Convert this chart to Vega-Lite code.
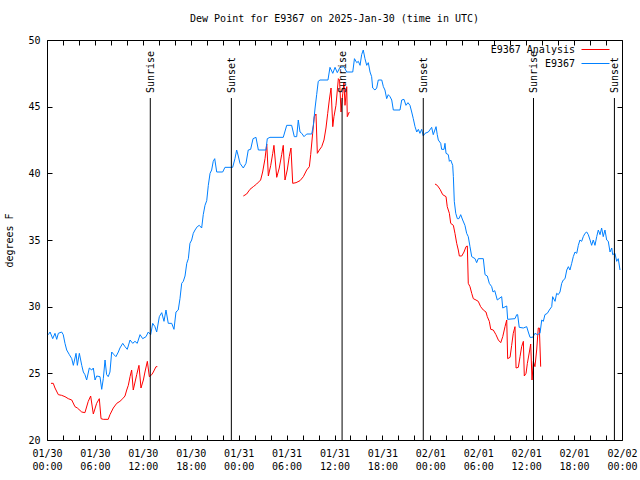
{
"$schema": "https://vega.github.io/schema/vega-lite/v6.json",
"width": 575, "height": 400,
"autosize": {"type": "none"},
"padding": {"left": 47, "top": 40, "right": 18, "bottom": 40},
"background": "white",
"title": {"text": "Dew Point for E9367 on 2025-Jan-30 (time in UTC)", "font": "DejaVu Sans Mono", "fontSize": 10, "fontWeight": "normal", "color": "black", "anchor": "middle", "offset": 11},
"config": {
 "view": {"stroke": "black", "strokeWidth": 1},
 "axis": {"labelFont": "DejaVu Sans Mono", "labelFontSize": 10, "labelColor": "black", "titleFont": "DejaVu Sans Mono", "titleFontSize": 10, "titleFontWeight": "normal", "titleColor": "black", "tickColor": "black", "tickSize": -5, "domain": false, "grid": false},
 "text": {"font": "DejaVu Sans Mono", "fontSize": 10, "color": "black"}
},
"datasets": {
 "ev": [
  {"t": "2025-01-30T12:56Z", "e": "Sunrise"},
  {"t": "2025-01-30T23:05Z", "e": "Sunset"},
  {"t": "2025-01-31T12:57Z", "e": "Sunrise"},
  {"t": "2025-01-31T23:07Z", "e": "Sunset"},
  {"t": "2025-02-01T12:55Z", "e": "Sunrise"},
  {"t": "2025-02-01T23:03Z", "e": "Sunset"}
 ],
 "obs": [
  {"s":"E9367 Analysis","g":"r1","t":"2025-01-30T00:30Z","v":24.25},
  {"s":"E9367 Analysis","g":"r1","t":"2025-01-30T00:47Z","v":24.25},
  {"s":"E9367 Analysis","g":"r1","t":"2025-01-30T01:00Z","v":23.9},
  {"s":"E9367 Analysis","g":"r1","t":"2025-01-30T01:25Z","v":23.4},
  {"s":"E9367 Analysis","g":"r1","t":"2025-01-30T01:50Z","v":23.35},
  {"s":"E9367 Analysis","g":"r1","t":"2025-01-30T02:15Z","v":23.25},
  {"s":"E9367 Analysis","g":"r1","t":"2025-01-30T02:40Z","v":23.1},
  {"s":"E9367 Analysis","g":"r1","t":"2025-01-30T03:06Z","v":23.0},
  {"s":"E9367 Analysis","g":"r1","t":"2025-01-30T03:30Z","v":22.5},
  {"s":"E9367 Analysis","g":"r1","t":"2025-01-30T03:48Z","v":22.4},
  {"s":"E9367 Analysis","g":"r1","t":"2025-01-30T04:21Z","v":22.1},
  {"s":"E9367 Analysis","g":"r1","t":"2025-01-30T04:45Z","v":22.05},
  {"s":"E9367 Analysis","g":"r1","t":"2025-01-30T05:10Z","v":22.9},
  {"s":"E9367 Analysis","g":"r1","t":"2025-01-30T05:28Z","v":23.3},
  {"s":"E9367 Analysis","g":"r1","t":"2025-01-30T05:48Z","v":21.95},
  {"s":"E9367 Analysis","g":"r1","t":"2025-01-30T06:13Z","v":22.75},
  {"s":"E9367 Analysis","g":"r1","t":"2025-01-30T06:33Z","v":23.1},
  {"s":"E9367 Analysis","g":"r1","t":"2025-01-30T06:46Z","v":21.6},
  {"s":"E9367 Analysis","g":"r1","t":"2025-01-30T07:03Z","v":21.55},
  {"s":"E9367 Analysis","g":"r1","t":"2025-01-30T07:40Z","v":21.55},
  {"s":"E9367 Analysis","g":"r1","t":"2025-01-30T07:53Z","v":21.9},
  {"s":"E9367 Analysis","g":"r1","t":"2025-01-30T08:18Z","v":22.4},
  {"s":"E9367 Analysis","g":"r1","t":"2025-01-30T08:44Z","v":22.75},
  {"s":"E9367 Analysis","g":"r1","t":"2025-01-30T09:08Z","v":22.9},
  {"s":"E9367 Analysis","g":"r1","t":"2025-01-30T09:29Z","v":23.1},
  {"s":"E9367 Analysis","g":"r1","t":"2025-01-30T09:46Z","v":23.3},
  {"s":"E9367 Analysis","g":"r1","t":"2025-01-30T09:59Z","v":23.75},
  {"s":"E9367 Analysis","g":"r1","t":"2025-01-30T10:11Z","v":24.1},
  {"s":"E9367 Analysis","g":"r1","t":"2025-01-30T10:24Z","v":24.75},
  {"s":"E9367 Analysis","g":"r1","t":"2025-01-30T10:36Z","v":25.25},
  {"s":"E9367 Analysis","g":"r1","t":"2025-01-30T10:48Z","v":23.75},
  {"s":"E9367 Analysis","g":"r1","t":"2025-01-30T11:14Z","v":24.9},
  {"s":"E9367 Analysis","g":"r1","t":"2025-01-30T11:31Z","v":25.6},
  {"s":"E9367 Analysis","g":"r1","t":"2025-01-30T11:46Z","v":23.9},
  {"s":"E9367 Analysis","g":"r1","t":"2025-01-30T12:04Z","v":24.5},
  {"s":"E9367 Analysis","g":"r1","t":"2025-01-30T12:16Z","v":25.1},
  {"s":"E9367 Analysis","g":"r1","t":"2025-01-30T12:34Z","v":25.9},
  {"s":"E9367 Analysis","g":"r1","t":"2025-01-30T12:49Z","v":24.75},
  {"s":"E9367 Analysis","g":"r1","t":"2025-01-30T13:07Z","v":24.9},
  {"s":"E9367 Analysis","g":"r1","t":"2025-01-30T13:19Z","v":25.1},
  {"s":"E9367 Analysis","g":"r1","t":"2025-01-30T13:39Z","v":25.5},
  {"s":"E9367 Analysis","g":"r1","t":"2025-01-30T13:49Z","v":25.5},
  {"s":"E9367 Analysis","g":"r2","t":"2025-01-31T00:35Z","v":38.3},
  {"s":"E9367 Analysis","g":"r2","t":"2025-01-31T01:00Z","v":38.45},
  {"s":"E9367 Analysis","g":"r2","t":"2025-01-31T01:25Z","v":38.8},
  {"s":"E9367 Analysis","g":"r2","t":"2025-01-31T01:50Z","v":39.0},
  {"s":"E9367 Analysis","g":"r2","t":"2025-01-31T02:15Z","v":39.2},
  {"s":"E9367 Analysis","g":"r2","t":"2025-01-31T02:45Z","v":39.5},
  {"s":"E9367 Analysis","g":"r2","t":"2025-01-31T03:00Z","v":40.1},
  {"s":"E9367 Analysis","g":"r2","t":"2025-01-31T03:18Z","v":41.1},
  {"s":"E9367 Analysis","g":"r2","t":"2025-01-31T03:31Z","v":42.2},
  {"s":"E9367 Analysis","g":"r2","t":"2025-01-31T03:43Z","v":39.8},
  {"s":"E9367 Analysis","g":"r2","t":"2025-01-31T04:01Z","v":40.6},
  {"s":"E9367 Analysis","g":"r2","t":"2025-01-31T04:16Z","v":41.5},
  {"s":"E9367 Analysis","g":"r2","t":"2025-01-31T04:25Z","v":42.1},
  {"s":"E9367 Analysis","g":"r2","t":"2025-01-31T04:46Z","v":39.7},
  {"s":"E9367 Analysis","g":"r2","t":"2025-01-31T05:05Z","v":40.4},
  {"s":"E9367 Analysis","g":"r2","t":"2025-01-31T05:23Z","v":41.4},
  {"s":"E9367 Analysis","g":"r2","t":"2025-01-31T05:35Z","v":42.1},
  {"s":"E9367 Analysis","g":"r2","t":"2025-01-31T05:48Z","v":39.5},
  {"s":"E9367 Analysis","g":"r2","t":"2025-01-31T06:05Z","v":40.25},
  {"s":"E9367 Analysis","g":"r2","t":"2025-01-31T06:20Z","v":41.25},
  {"s":"E9367 Analysis","g":"r2","t":"2025-01-31T06:33Z","v":41.9},
  {"s":"E9367 Analysis","g":"r2","t":"2025-01-31T06:46Z","v":39.25},
  {"s":"E9367 Analysis","g":"r2","t":"2025-01-31T07:11Z","v":39.3},
  {"s":"E9367 Analysis","g":"r2","t":"2025-01-31T07:41Z","v":39.45},
  {"s":"E9367 Analysis","g":"r2","t":"2025-01-31T08:06Z","v":39.75},
  {"s":"E9367 Analysis","g":"r2","t":"2025-01-31T08:31Z","v":40.25},
  {"s":"E9367 Analysis","g":"r2","t":"2025-01-31T08:51Z","v":40.5},
  {"s":"E9367 Analysis","g":"r2","t":"2025-01-31T09:01Z","v":41.4},
  {"s":"E9367 Analysis","g":"r2","t":"2025-01-31T09:16Z","v":43.0},
  {"s":"E9367 Analysis","g":"r2","t":"2025-01-31T09:28Z","v":44.25},
  {"s":"E9367 Analysis","g":"r2","t":"2025-01-31T09:41Z","v":44.45},
  {"s":"E9367 Analysis","g":"r2","t":"2025-01-31T09:51Z","v":41.5},
  {"s":"E9367 Analysis","g":"r2","t":"2025-01-31T10:06Z","v":41.75},
  {"s":"E9367 Analysis","g":"r2","t":"2025-01-31T10:24Z","v":42.0},
  {"s":"E9367 Analysis","g":"r2","t":"2025-01-31T10:41Z","v":42.5},
  {"s":"E9367 Analysis","g":"r2","t":"2025-01-31T10:56Z","v":43.4},
  {"s":"E9367 Analysis","g":"r2","t":"2025-01-31T11:09Z","v":44.5},
  {"s":"E9367 Analysis","g":"r2","t":"2025-01-31T11:21Z","v":45.5},
  {"s":"E9367 Analysis","g":"r2","t":"2025-01-31T11:34Z","v":46.4},
  {"s":"E9367 Analysis","g":"r2","t":"2025-01-31T11:47Z","v":43.5},
  {"s":"E9367 Analysis","g":"r2","t":"2025-01-31T11:56Z","v":44.25},
  {"s":"E9367 Analysis","g":"r2","t":"2025-01-31T12:11Z","v":45.1},
  {"s":"E9367 Analysis","g":"r2","t":"2025-01-31T12:29Z","v":47.1},
  {"s":"E9367 Analysis","g":"r2","t":"2025-01-31T12:38Z","v":47.0},
  {"s":"E9367 Analysis","g":"r2","t":"2025-01-31T12:49Z","v":44.6},
  {"s":"E9367 Analysis","g":"r2","t":"2025-01-31T13:02Z","v":46.0},
  {"s":"E9367 Analysis","g":"r2","t":"2025-01-31T13:11Z","v":46.8},
  {"s":"E9367 Analysis","g":"r2","t":"2025-01-31T13:19Z","v":45.1},
  {"s":"E9367 Analysis","g":"r2","t":"2025-01-31T13:32Z","v":46.5},
  {"s":"E9367 Analysis","g":"r2","t":"2025-01-31T13:36Z","v":44.25},
  {"s":"E9367 Analysis","g":"r2","t":"2025-01-31T13:51Z","v":44.6},
  {"s":"E9367 Analysis","g":"r3","t":"2025-02-01T00:35Z","v":39.2},
  {"s":"E9367 Analysis","g":"r3","t":"2025-02-01T00:52Z","v":39.1},
  {"s":"E9367 Analysis","g":"r3","t":"2025-02-01T01:13Z","v":38.8},
  {"s":"E9367 Analysis","g":"r3","t":"2025-02-01T01:33Z","v":38.4},
  {"s":"E9367 Analysis","g":"r3","t":"2025-02-01T01:58Z","v":38.25},
  {"s":"E9367 Analysis","g":"r3","t":"2025-02-01T02:07Z","v":37.5},
  {"s":"E9367 Analysis","g":"r3","t":"2025-02-01T02:23Z","v":37.0},
  {"s":"E9367 Analysis","g":"r3","t":"2025-02-01T02:33Z","v":36.25},
  {"s":"E9367 Analysis","g":"r3","t":"2025-02-01T02:53Z","v":36.1},
  {"s":"E9367 Analysis","g":"r3","t":"2025-02-01T03:05Z","v":35.5},
  {"s":"E9367 Analysis","g":"r3","t":"2025-02-01T03:18Z","v":34.75},
  {"s":"E9367 Analysis","g":"r3","t":"2025-02-01T03:30Z","v":34.25},
  {"s":"E9367 Analysis","g":"r3","t":"2025-02-01T03:38Z","v":33.8},
  {"s":"E9367 Analysis","g":"r3","t":"2025-02-01T03:56Z","v":33.8},
  {"s":"E9367 Analysis","g":"r3","t":"2025-02-01T04:13Z","v":34.1},
  {"s":"E9367 Analysis","g":"r3","t":"2025-02-01T04:28Z","v":34.5},
  {"s":"E9367 Analysis","g":"r3","t":"2025-02-01T04:38Z","v":34.55},
  {"s":"E9367 Analysis","g":"r3","t":"2025-02-01T04:45Z","v":31.75},
  {"s":"E9367 Analysis","g":"r3","t":"2025-02-01T04:58Z","v":31.5},
  {"s":"E9367 Analysis","g":"r3","t":"2025-02-01T05:11Z","v":31.0},
  {"s":"E9367 Analysis","g":"r3","t":"2025-02-01T05:23Z","v":30.6},
  {"s":"E9367 Analysis","g":"r3","t":"2025-02-01T05:43Z","v":30.5},
  {"s":"E9367 Analysis","g":"r3","t":"2025-02-01T06:00Z","v":30.4},
  {"s":"E9367 Analysis","g":"r3","t":"2025-02-01T06:18Z","v":30.0},
  {"s":"E9367 Analysis","g":"r3","t":"2025-02-01T06:38Z","v":29.75},
  {"s":"E9367 Analysis","g":"r3","t":"2025-02-01T06:58Z","v":29.6},
  {"s":"E9367 Analysis","g":"r3","t":"2025-02-01T07:08Z","v":29.25},
  {"s":"E9367 Analysis","g":"r3","t":"2025-02-01T07:23Z","v":28.9},
  {"s":"E9367 Analysis","g":"r3","t":"2025-02-01T07:34Z","v":28.3},
  {"s":"E9367 Analysis","g":"r3","t":"2025-02-01T07:53Z","v":28.25},
  {"s":"E9367 Analysis","g":"r3","t":"2025-02-01T08:13Z","v":27.9},
  {"s":"E9367 Analysis","g":"r3","t":"2025-02-01T08:31Z","v":27.5},
  {"s":"E9367 Analysis","g":"r3","t":"2025-02-01T08:49Z","v":27.3},
  {"s":"E9367 Analysis","g":"r3","t":"2025-02-01T09:04Z","v":27.75},
  {"s":"E9367 Analysis","g":"r3","t":"2025-02-01T09:21Z","v":28.5},
  {"s":"E9367 Analysis","g":"r3","t":"2025-02-01T09:34Z","v":29.0},
  {"s":"E9367 Analysis","g":"r3","t":"2025-02-01T09:41Z","v":26.1},
  {"s":"E9367 Analysis","g":"r3","t":"2025-02-01T09:59Z","v":26.2},
  {"s":"E9367 Analysis","g":"r3","t":"2025-02-01T10:11Z","v":27.1},
  {"s":"E9367 Analysis","g":"r3","t":"2025-02-01T10:23Z","v":28.0},
  {"s":"E9367 Analysis","g":"r3","t":"2025-02-01T10:36Z","v":28.5},
  {"s":"E9367 Analysis","g":"r3","t":"2025-02-01T10:44Z","v":25.4},
  {"s":"E9367 Analysis","g":"r3","t":"2025-02-01T11:01Z","v":25.45},
  {"s":"E9367 Analysis","g":"r3","t":"2025-02-01T11:14Z","v":26.25},
  {"s":"E9367 Analysis","g":"r3","t":"2025-02-01T11:26Z","v":27.0},
  {"s":"E9367 Analysis","g":"r3","t":"2025-02-01T11:39Z","v":27.4},
  {"s":"E9367 Analysis","g":"r3","t":"2025-02-01T11:46Z","v":24.8},
  {"s":"E9367 Analysis","g":"r3","t":"2025-02-01T11:59Z","v":25.0},
  {"s":"E9367 Analysis","g":"r3","t":"2025-02-01T12:09Z","v":25.75},
  {"s":"E9367 Analysis","g":"r3","t":"2025-02-01T12:24Z","v":26.6},
  {"s":"E9367 Analysis","g":"r3","t":"2025-02-01T12:34Z","v":27.2},
  {"s":"E9367 Analysis","g":"r3","t":"2025-02-01T12:44Z","v":24.5},
  {"s":"E9367 Analysis","g":"r3","t":"2025-02-01T12:54Z","v":25.9},
  {"s":"E9367 Analysis","g":"r3","t":"2025-02-01T13:06Z","v":25.5},
  {"s":"E9367 Analysis","g":"r3","t":"2025-02-01T13:19Z","v":26.75},
  {"s":"E9367 Analysis","g":"r3","t":"2025-02-01T13:31Z","v":28.4},
  {"s":"E9367 Analysis","g":"r3","t":"2025-02-01T13:39Z","v":28.4},
  {"s":"E9367 Analysis","g":"r3","t":"2025-02-01T13:49Z","v":25.5},
  {"s":"E9367","g":"b","t":"2025-01-30T00:10Z","v":27.9},
  {"s":"E9367","g":"b","t":"2025-01-30T00:23Z","v":28.1},
  {"s":"E9367","g":"b","t":"2025-01-30T00:43Z","v":27.6},
  {"s":"E9367","g":"b","t":"2025-01-30T01:00Z","v":28.0},
  {"s":"E9367","g":"b","t":"2025-01-30T01:13Z","v":27.55},
  {"s":"E9367","g":"b","t":"2025-01-30T01:25Z","v":28.0},
  {"s":"E9367","g":"b","t":"2025-01-30T01:50Z","v":28.1},
  {"s":"E9367","g":"b","t":"2025-01-30T02:02Z","v":27.9},
  {"s":"E9367","g":"b","t":"2025-01-30T02:15Z","v":27.25},
  {"s":"E9367","g":"b","t":"2025-01-30T02:28Z","v":26.75},
  {"s":"E9367","g":"b","t":"2025-01-30T02:48Z","v":26.4},
  {"s":"E9367","g":"b","t":"2025-01-30T03:06Z","v":26.1},
  {"s":"E9367","g":"b","t":"2025-01-30T03:18Z","v":25.6},
  {"s":"E9367","g":"b","t":"2025-01-30T03:38Z","v":26.5},
  {"s":"E9367","g":"b","t":"2025-01-30T03:48Z","v":25.6},
  {"s":"E9367","g":"b","t":"2025-01-30T04:03Z","v":26.5},
  {"s":"E9367","g":"b","t":"2025-01-30T04:21Z","v":25.6},
  {"s":"E9367","g":"b","t":"2025-01-30T04:33Z","v":25.1},
  {"s":"E9367","g":"b","t":"2025-01-30T04:45Z","v":24.9},
  {"s":"E9367","g":"b","t":"2025-01-30T04:58Z","v":24.5},
  {"s":"E9367","g":"b","t":"2025-01-30T05:18Z","v":25.4},
  {"s":"E9367","g":"b","t":"2025-01-30T05:36Z","v":25.25},
  {"s":"E9367","g":"b","t":"2025-01-30T05:48Z","v":25.4},
  {"s":"E9367","g":"b","t":"2025-01-30T06:01Z","v":24.5},
  {"s":"E9367","g":"b","t":"2025-01-30T06:13Z","v":24.8},
  {"s":"E9367","g":"b","t":"2025-01-30T06:38Z","v":24.75},
  {"s":"E9367","g":"b","t":"2025-01-30T06:51Z","v":23.8},
  {"s":"E9367","g":"b","t":"2025-01-30T07:03Z","v":24.6},
  {"s":"E9367","g":"b","t":"2025-01-30T07:16Z","v":26.0},
  {"s":"E9367","g":"b","t":"2025-01-30T07:28Z","v":24.9},
  {"s":"E9367","g":"b","t":"2025-01-30T07:40Z","v":24.75},
  {"s":"E9367","g":"b","t":"2025-01-30T07:53Z","v":25.1},
  {"s":"E9367","g":"b","t":"2025-01-30T08:06Z","v":26.6},
  {"s":"E9367","g":"b","t":"2025-01-30T08:23Z","v":26.4},
  {"s":"E9367","g":"b","t":"2025-01-30T08:38Z","v":26.25},
  {"s":"E9367","g":"b","t":"2025-01-30T08:56Z","v":26.6},
  {"s":"E9367","g":"b","t":"2025-01-30T09:08Z","v":26.9},
  {"s":"E9367","g":"b","t":"2025-01-30T09:29Z","v":27.25},
  {"s":"E9367","g":"b","t":"2025-01-30T09:46Z","v":27.0},
  {"s":"E9367","g":"b","t":"2025-01-30T10:03Z","v":26.8},
  {"s":"E9367","g":"b","t":"2025-01-30T10:24Z","v":27.5},
  {"s":"E9367","g":"b","t":"2025-01-30T10:44Z","v":27.25},
  {"s":"E9367","g":"b","t":"2025-01-30T11:01Z","v":27.4},
  {"s":"E9367","g":"b","t":"2025-01-30T11:18Z","v":27.25},
  {"s":"E9367","g":"b","t":"2025-01-30T11:39Z","v":27.9},
  {"s":"E9367","g":"b","t":"2025-01-30T11:59Z","v":27.6},
  {"s":"E9367","g":"b","t":"2025-01-30T12:24Z","v":27.75},
  {"s":"E9367","g":"b","t":"2025-01-30T12:41Z","v":28.1},
  {"s":"E9367","g":"b","t":"2025-01-30T12:59Z","v":27.9},
  {"s":"E9367","g":"b","t":"2025-01-30T13:14Z","v":28.75},
  {"s":"E9367","g":"b","t":"2025-01-30T13:31Z","v":28.5},
  {"s":"E9367","g":"b","t":"2025-01-30T13:44Z","v":28.1},
  {"s":"E9367","g":"b","t":"2025-01-30T14:04Z","v":29.25},
  {"s":"E9367","g":"b","t":"2025-01-30T14:22Z","v":29.55},
  {"s":"E9367","g":"b","t":"2025-01-30T14:39Z","v":28.9},
  {"s":"E9367","g":"b","t":"2025-01-30T14:54Z","v":29.75},
  {"s":"E9367","g":"b","t":"2025-01-30T15:11Z","v":28.75},
  {"s":"E9367","g":"b","t":"2025-01-30T15:37Z","v":28.75},
  {"s":"E9367","g":"b","t":"2025-01-30T15:54Z","v":28.3},
  {"s":"E9367","g":"b","t":"2025-01-30T16:09Z","v":29.6},
  {"s":"E9367","g":"b","t":"2025-01-30T16:26Z","v":29.75},
  {"s":"E9367","g":"b","t":"2025-01-30T16:39Z","v":30.6},
  {"s":"E9367","g":"b","t":"2025-01-30T16:52Z","v":31.75},
  {"s":"E9367","g":"b","t":"2025-01-30T17:04Z","v":31.9},
  {"s":"E9367","g":"b","t":"2025-01-30T17:17Z","v":32.3},
  {"s":"E9367","g":"b","t":"2025-01-30T17:30Z","v":33.25},
  {"s":"E9367","g":"b","t":"2025-01-30T17:42Z","v":33.6},
  {"s":"E9367","g":"b","t":"2025-01-30T17:54Z","v":34.75},
  {"s":"E9367","g":"b","t":"2025-01-30T18:07Z","v":35.0},
  {"s":"E9367","g":"b","t":"2025-01-30T18:19Z","v":35.5},
  {"s":"E9367","g":"b","t":"2025-01-30T18:32Z","v":35.75},
  {"s":"E9367","g":"b","t":"2025-01-30T18:49Z","v":36.0},
  {"s":"E9367","g":"b","t":"2025-01-30T19:04Z","v":36.1},
  {"s":"E9367","g":"b","t":"2025-01-30T19:22Z","v":35.9},
  {"s":"E9367","g":"b","t":"2025-01-30T19:34Z","v":36.9},
  {"s":"E9367","g":"b","t":"2025-01-30T19:47Z","v":37.6},
  {"s":"E9367","g":"b","t":"2025-01-30T20:00Z","v":37.95},
  {"s":"E9367","g":"b","t":"2025-01-30T20:12Z","v":39.1},
  {"s":"E9367","g":"b","t":"2025-01-30T20:25Z","v":40.0},
  {"s":"E9367","g":"b","t":"2025-01-30T20:37Z","v":40.25},
  {"s":"E9367","g":"b","t":"2025-01-30T20:49Z","v":40.9},
  {"s":"E9367","g":"b","t":"2025-01-30T21:00Z","v":41.1},
  {"s":"E9367","g":"b","t":"2025-01-30T21:15Z","v":40.1},
  {"s":"E9367","g":"b","t":"2025-01-30T22:00Z","v":40.1},
  {"s":"E9367","g":"b","t":"2025-01-30T22:17Z","v":40.45},
  {"s":"E9367","g":"b","t":"2025-01-30T23:15Z","v":40.45},
  {"s":"E9367","g":"b","t":"2025-01-30T23:32Z","v":41.1},
  {"s":"E9367","g":"b","t":"2025-01-30T23:45Z","v":41.75},
  {"s":"E9367","g":"b","t":"2025-01-30T23:57Z","v":41.3},
  {"s":"E9367","g":"b","t":"2025-01-31T00:10Z","v":40.75},
  {"s":"E9367","g":"b","t":"2025-01-31T00:35Z","v":40.4},
  {"s":"E9367","g":"b","t":"2025-01-31T00:55Z","v":40.75},
  {"s":"E9367","g":"b","t":"2025-01-31T01:12Z","v":41.75},
  {"s":"E9367","g":"b","t":"2025-01-31T01:30Z","v":41.8},
  {"s":"E9367","g":"b","t":"2025-01-31T01:48Z","v":42.6},
  {"s":"E9367","g":"b","t":"2025-01-31T02:10Z","v":42.7},
  {"s":"E9367","g":"b","t":"2025-01-31T02:28Z","v":41.75},
  {"s":"E9367","g":"b","t":"2025-01-31T03:25Z","v":41.75},
  {"s":"E9367","g":"b","t":"2025-01-31T03:35Z","v":42.6},
  {"s":"E9367","g":"b","t":"2025-01-31T03:55Z","v":42.7},
  {"s":"E9367","g":"b","t":"2025-01-31T05:35Z","v":42.7},
  {"s":"E9367","g":"b","t":"2025-01-31T06:01Z","v":43.6},
  {"s":"E9367","g":"b","t":"2025-01-31T06:38Z","v":43.6},
  {"s":"E9367","g":"b","t":"2025-01-31T06:58Z","v":42.75},
  {"s":"E9367","g":"b","t":"2025-01-31T07:16Z","v":42.75},
  {"s":"E9367","g":"b","t":"2025-01-31T07:28Z","v":44.0},
  {"s":"E9367","g":"b","t":"2025-01-31T07:41Z","v":43.1},
  {"s":"E9367","g":"b","t":"2025-01-31T07:54Z","v":43.0},
  {"s":"E9367","g":"b","t":"2025-01-31T08:11Z","v":42.75},
  {"s":"E9367","g":"b","t":"2025-01-31T08:31Z","v":42.95},
  {"s":"E9367","g":"b","t":"2025-01-31T09:09Z","v":42.95},
  {"s":"E9367","g":"b","t":"2025-01-31T09:21Z","v":43.6},
  {"s":"E9367","g":"b","t":"2025-01-31T09:34Z","v":44.9},
  {"s":"E9367","g":"b","t":"2025-01-31T09:46Z","v":45.9},
  {"s":"E9367","g":"b","t":"2025-01-31T09:58Z","v":46.9},
  {"s":"E9367","g":"b","t":"2025-01-31T10:11Z","v":47.0},
  {"s":"E9367","g":"b","t":"2025-01-31T11:11Z","v":47.0},
  {"s":"E9367","g":"b","t":"2025-01-31T11:26Z","v":47.95},
  {"s":"E9367","g":"b","t":"2025-01-31T11:47Z","v":47.5},
  {"s":"E9367","g":"b","t":"2025-01-31T12:04Z","v":47.95},
  {"s":"E9367","g":"b","t":"2025-01-31T12:21Z","v":47.55},
  {"s":"E9367","g":"b","t":"2025-01-31T12:41Z","v":47.95},
  {"s":"E9367","g":"b","t":"2025-01-31T13:11Z","v":48.0},
  {"s":"E9367","g":"b","t":"2025-01-31T13:32Z","v":47.6},
  {"s":"E9367","g":"b","t":"2025-01-31T14:17Z","v":47.6},
  {"s":"E9367","g":"b","t":"2025-01-31T14:30Z","v":48.6},
  {"s":"E9367","g":"b","t":"2025-01-31T14:47Z","v":48.3},
  {"s":"E9367","g":"b","t":"2025-01-31T14:59Z","v":48.4},
  {"s":"E9367","g":"b","t":"2025-01-31T15:12Z","v":48.1},
  {"s":"E9367","g":"b","t":"2025-01-31T15:24Z","v":48.9},
  {"s":"E9367","g":"b","t":"2025-01-31T15:36Z","v":49.25},
  {"s":"E9367","g":"b","t":"2025-01-31T15:49Z","v":48.6},
  {"s":"E9367","g":"b","t":"2025-01-31T16:02Z","v":48.1},
  {"s":"E9367","g":"b","t":"2025-01-31T16:14Z","v":48.3},
  {"s":"E9367","g":"b","t":"2025-01-31T16:27Z","v":47.6},
  {"s":"E9367","g":"b","t":"2025-01-31T16:39Z","v":47.25},
  {"s":"E9367","g":"b","t":"2025-01-31T16:47Z","v":46.4},
  {"s":"E9367","g":"b","t":"2025-01-31T17:04Z","v":46.25},
  {"s":"E9367","g":"b","t":"2025-01-31T17:17Z","v":46.4},
  {"s":"E9367","g":"b","t":"2025-01-31T17:29Z","v":47.0},
  {"s":"E9367","g":"b","t":"2025-01-31T17:55Z","v":47.0},
  {"s":"E9367","g":"b","t":"2025-01-31T18:07Z","v":46.5},
  {"s":"E9367","g":"b","t":"2025-01-31T18:19Z","v":46.25},
  {"s":"E9367","g":"b","t":"2025-01-31T18:32Z","v":45.6},
  {"s":"E9367","g":"b","t":"2025-01-31T18:44Z","v":45.9},
  {"s":"E9367","g":"b","t":"2025-01-31T18:57Z","v":45.75},
  {"s":"E9367","g":"b","t":"2025-01-31T19:10Z","v":45.5},
  {"s":"E9367","g":"b","t":"2025-01-31T19:22Z","v":44.75},
  {"s":"E9367","g":"b","t":"2025-01-31T20:12Z","v":44.75},
  {"s":"E9367","g":"b","t":"2025-01-31T20:25Z","v":45.5},
  {"s":"E9367","g":"b","t":"2025-01-31T20:42Z","v":45.55},
  {"s":"E9367","g":"b","t":"2025-01-31T20:57Z","v":45.1},
  {"s":"E9367","g":"b","t":"2025-01-31T21:12Z","v":45.3},
  {"s":"E9367","g":"b","t":"2025-01-31T21:27Z","v":45.1},
  {"s":"E9367","g":"b","t":"2025-01-31T21:40Z","v":44.6},
  {"s":"E9367","g":"b","t":"2025-01-31T21:52Z","v":44.1},
  {"s":"E9367","g":"b","t":"2025-01-31T22:05Z","v":43.5},
  {"s":"E9367","g":"b","t":"2025-01-31T22:18Z","v":43.1},
  {"s":"E9367","g":"b","t":"2025-01-31T22:30Z","v":43.3},
  {"s":"E9367","g":"b","t":"2025-01-31T22:42Z","v":43.0},
  {"s":"E9367","g":"b","t":"2025-01-31T22:55Z","v":43.3},
  {"s":"E9367","g":"b","t":"2025-01-31T23:07Z","v":42.8},
  {"s":"E9367","g":"b","t":"2025-01-31T23:20Z","v":43.0},
  {"s":"E9367","g":"b","t":"2025-01-31T23:45Z","v":43.1},
  {"s":"E9367","g":"b","t":"2025-02-01T00:10Z","v":43.45},
  {"s":"E9367","g":"b","t":"2025-02-01T00:22Z","v":42.9},
  {"s":"E9367","g":"b","t":"2025-02-01T00:43Z","v":43.5},
  {"s":"E9367","g":"b","t":"2025-02-01T00:52Z","v":42.9},
  {"s":"E9367","g":"b","t":"2025-02-01T01:00Z","v":42.5},
  {"s":"E9367","g":"b","t":"2025-02-01T01:18Z","v":42.25},
  {"s":"E9367","g":"b","t":"2025-02-01T01:25Z","v":41.8},
  {"s":"E9367","g":"b","t":"2025-02-01T01:43Z","v":41.8},
  {"s":"E9367","g":"b","t":"2025-02-01T01:50Z","v":42.25},
  {"s":"E9367","g":"b","t":"2025-02-01T01:58Z","v":41.5},
  {"s":"E9367","g":"b","t":"2025-02-01T02:15Z","v":41.4},
  {"s":"E9367","g":"b","t":"2025-02-01T02:23Z","v":40.9},
  {"s":"E9367","g":"b","t":"2025-02-01T02:33Z","v":41.0},
  {"s":"E9367","g":"b","t":"2025-02-01T02:48Z","v":40.6},
  {"s":"E9367","g":"b","t":"2025-02-01T02:53Z","v":39.75},
  {"s":"E9367","g":"b","t":"2025-02-01T03:00Z","v":37.9},
  {"s":"E9367","g":"b","t":"2025-02-01T03:11Z","v":37.0},
  {"s":"E9367","g":"b","t":"2025-02-01T03:23Z","v":36.6},
  {"s":"E9367","g":"b","t":"2025-02-01T03:35Z","v":36.6},
  {"s":"E9367","g":"b","t":"2025-02-01T03:48Z","v":36.9},
  {"s":"E9367","g":"b","t":"2025-02-01T04:03Z","v":36.5},
  {"s":"E9367","g":"b","t":"2025-02-01T04:20Z","v":36.1},
  {"s":"E9367","g":"b","t":"2025-02-01T04:33Z","v":35.5},
  {"s":"E9367","g":"b","t":"2025-02-01T04:45Z","v":35.25},
  {"s":"E9367","g":"b","t":"2025-02-01T04:58Z","v":34.5},
  {"s":"E9367","g":"b","t":"2025-02-01T05:11Z","v":33.75},
  {"s":"E9367","g":"b","t":"2025-02-01T05:36Z","v":33.6},
  {"s":"E9367","g":"b","t":"2025-02-01T05:48Z","v":33.3},
  {"s":"E9367","g":"b","t":"2025-02-01T06:00Z","v":33.6},
  {"s":"E9367","g":"b","t":"2025-02-01T06:38Z","v":33.6},
  {"s":"E9367","g":"b","t":"2025-02-01T06:51Z","v":32.4},
  {"s":"E9367","g":"b","t":"2025-02-01T07:08Z","v":32.3},
  {"s":"E9367","g":"b","t":"2025-02-01T07:23Z","v":31.75},
  {"s":"E9367","g":"b","t":"2025-02-01T07:41Z","v":31.5},
  {"s":"E9367","g":"b","t":"2025-02-01T07:51Z","v":31.1},
  {"s":"E9367","g":"b","t":"2025-02-01T08:04Z","v":31.2},
  {"s":"E9367","g":"b","t":"2025-02-01T08:23Z","v":30.5},
  {"s":"E9367","g":"b","t":"2025-02-01T08:36Z","v":30.6},
  {"s":"E9367","g":"b","t":"2025-02-01T08:56Z","v":30.75},
  {"s":"E9367","g":"b","t":"2025-02-01T09:04Z","v":29.9},
  {"s":"E9367","g":"b","t":"2025-02-01T09:34Z","v":30.05},
  {"s":"E9367","g":"b","t":"2025-02-01T09:41Z","v":29.05},
  {"s":"E9367","g":"b","t":"2025-02-01T10:36Z","v":29.1},
  {"s":"E9367","g":"b","t":"2025-02-01T10:49Z","v":29.4},
  {"s":"E9367","g":"b","t":"2025-02-01T10:56Z","v":29.4},
  {"s":"E9367","g":"b","t":"2025-02-01T11:08Z","v":28.45},
  {"s":"E9367","g":"b","t":"2025-02-01T11:39Z","v":28.4},
  {"s":"E9367","g":"b","t":"2025-02-01T12:04Z","v":28.5},
  {"s":"E9367","g":"b","t":"2025-02-01T12:16Z","v":28.1},
  {"s":"E9367","g":"b","t":"2025-02-01T12:29Z","v":27.7},
  {"s":"E9367","g":"b","t":"2025-02-01T12:49Z","v":27.7},
  {"s":"E9367","g":"b","t":"2025-02-01T13:06Z","v":28.0},
  {"s":"E9367","g":"b","t":"2025-02-01T13:24Z","v":27.9},
  {"s":"E9367","g":"b","t":"2025-02-01T13:44Z","v":28.0},
  {"s":"E9367","g":"b","t":"2025-02-01T13:57Z","v":29.0},
  {"s":"E9367","g":"b","t":"2025-02-01T14:09Z","v":28.9},
  {"s":"E9367","g":"b","t":"2025-02-01T14:21Z","v":29.4},
  {"s":"E9367","g":"b","t":"2025-02-01T14:39Z","v":29.5},
  {"s":"E9367","g":"b","t":"2025-02-01T14:54Z","v":29.75},
  {"s":"E9367","g":"b","t":"2025-02-01T15:12Z","v":30.0},
  {"s":"E9367","g":"b","t":"2025-02-01T15:19Z","v":30.75},
  {"s":"E9367","g":"b","t":"2025-02-01T15:37Z","v":30.4},
  {"s":"E9367","g":"b","t":"2025-02-01T15:49Z","v":31.0},
  {"s":"E9367","g":"b","t":"2025-02-01T16:01Z","v":30.9},
  {"s":"E9367","g":"b","t":"2025-02-01T16:14Z","v":31.1},
  {"s":"E9367","g":"b","t":"2025-02-01T16:27Z","v":31.75},
  {"s":"E9367","g":"b","t":"2025-02-01T16:39Z","v":32.0},
  {"s":"E9367","g":"b","t":"2025-02-01T16:52Z","v":32.1},
  {"s":"E9367","g":"b","t":"2025-02-01T17:05Z","v":32.75},
  {"s":"E9367","g":"b","t":"2025-02-01T17:17Z","v":33.0},
  {"s":"E9367","g":"b","t":"2025-02-01T17:29Z","v":32.75},
  {"s":"E9367","g":"b","t":"2025-02-01T17:42Z","v":33.25},
  {"s":"E9367","g":"b","t":"2025-02-01T17:54Z","v":33.75},
  {"s":"E9367","g":"b","t":"2025-02-01T18:07Z","v":34.1},
  {"s":"E9367","g":"b","t":"2025-02-01T18:20Z","v":34.0},
  {"s":"E9367","g":"b","t":"2025-02-01T18:32Z","v":34.6},
  {"s":"E9367","g":"b","t":"2025-02-01T18:44Z","v":35.0},
  {"s":"E9367","g":"b","t":"2025-02-01T18:57Z","v":34.9},
  {"s":"E9367","g":"b","t":"2025-02-01T19:09Z","v":35.25},
  {"s":"E9367","g":"b","t":"2025-02-01T19:22Z","v":35.5},
  {"s":"E9367","g":"b","t":"2025-02-01T19:35Z","v":35.6},
  {"s":"E9367","g":"b","t":"2025-02-01T19:47Z","v":35.4},
  {"s":"E9367","g":"b","t":"2025-02-01T20:00Z","v":35.0},
  {"s":"E9367","g":"b","t":"2025-02-01T20:12Z","v":34.6},
  {"s":"E9367","g":"b","t":"2025-02-01T20:24Z","v":35.0},
  {"s":"E9367","g":"b","t":"2025-02-01T20:37Z","v":34.6},
  {"s":"E9367","g":"b","t":"2025-02-01T20:50Z","v":35.25},
  {"s":"E9367","g":"b","t":"2025-02-01T21:02Z","v":35.75},
  {"s":"E9367","g":"b","t":"2025-02-01T21:15Z","v":35.4},
  {"s":"E9367","g":"b","t":"2025-02-01T21:27Z","v":35.9},
  {"s":"E9367","g":"b","t":"2025-02-01T21:39Z","v":35.25},
  {"s":"E9367","g":"b","t":"2025-02-01T21:52Z","v":35.75},
  {"s":"E9367","g":"b","t":"2025-02-01T22:05Z","v":35.0},
  {"s":"E9367","g":"b","t":"2025-02-01T22:17Z","v":34.9},
  {"s":"E9367","g":"b","t":"2025-02-01T22:30Z","v":34.1},
  {"s":"E9367","g":"b","t":"2025-02-01T22:43Z","v":34.4},
  {"s":"E9367","g":"b","t":"2025-02-01T22:50Z","v":33.9},
  {"s":"E9367","g":"b","t":"2025-02-01T23:07Z","v":34.0},
  {"s":"E9367","g":"b","t":"2025-02-01T23:20Z","v":33.4},
  {"s":"E9367","g":"b","t":"2025-02-01T23:32Z","v":33.6},
  {"s":"E9367","g":"b","t":"2025-02-01T23:45Z","v":32.75}
 ]
},
"layer": [
 {
  "data": {"name": "obs"},
  "mark": {"type": "line", "strokeWidth": 1, "clip": true},
  "encoding": {
   "x": {"field": "t", "type": "temporal",
    "scale": {"type": "utc", "domain": [1738195200000, 1738454400000], "nice": false},
    "axis": {"orient": "bottom", "title": null, "values": [1738195200000, 1738202400000, 1738209600000, 1738216800000, 1738224000000, 1738231200000, 1738238400000, 1738245600000, 1738252800000, 1738260000000, 1738267200000, 1738274400000, 1738281600000, 1738288800000, 1738296000000, 1738303200000, 1738310400000, 1738317600000, 1738324800000, 1738332000000, 1738339200000, 1738346400000, 1738353600000, 1738360800000, 1738368000000, 1738375200000, 1738382400000, 1738389600000, 1738396800000, 1738404000000, 1738411200000, 1738418400000, 1738425600000, 1738432800000, 1738440000000, 1738447200000, 1738454400000], "labelExpr": "utchours(datum.value) % 6 == 0 ? [utcFormat(datum.value, '%m/%d'), utcFormat(datum.value, '%H:%M')] : ''", "labelPadding": 13, "labelLineHeight": 13, "labelOverlap": false, "labelFlush": false, "labelBound": false}},
   "y": {"field": "v", "type": "quantitative",
    "scale": {"domain": [20, 50], "nice": false, "zero": false},
    "axis": {"orient": "left", "title": "degrees F", "values": [20, 25, 30, 35, 40, 45, 50], "labelPadding": 12, "titlePadding": 13}},
   "stroke": {"field": "s", "type": "nominal",
    "scale": {"domain": ["E9367 Analysis", "E9367"], "range": ["#ff0000", "#0080ff"]},
    "legend": {"orient": "none", "legendX": 543, "legendY": 4, "title": null, "symbolType": "M-2.8,0H2.8", "symbolSize": 100, "symbolStrokeWidth": 1, "symbolOpacity": 1, "symbolFillColor": "transparent", "labelAlign": "right", "labelOffset": -26, "labelFont": "DejaVu Sans Mono", "labelFontSize": 10, "labelColor": "black", "rowPadding": 3}},
   "detail": {"field": "g"}
  }
 },
 {
  "data": {"name": "ev"},
  "mark": {"type": "rule", "color": "black", "strokeWidth": 1},
  "encoding": {
   "x": {"field": "t", "type": "temporal", "axis": {"orient": "top", "title": null, "labels": false, "values": [1738195200000, 1738202400000, 1738209600000, 1738216800000, 1738224000000, 1738231200000, 1738238400000, 1738245600000, 1738252800000, 1738260000000, 1738267200000, 1738274400000, 1738281600000, 1738288800000, 1738296000000, 1738303200000, 1738310400000, 1738317600000, 1738324800000, 1738332000000, 1738339200000, 1738346400000, 1738353600000, 1738360800000, 1738368000000, 1738375200000, 1738382400000, 1738389600000, 1738396800000, 1738404000000, 1738411200000, 1738418400000, 1738425600000, 1738432800000, 1738440000000, 1738447200000, 1738454400000]}},
   "y": {"datum": 45.65, "type": "quantitative", "axis": {"orient": "right", "title": null, "labels": false, "values": [20, 25, 30, 35, 40, 45, 50]}},
   "y2": {"datum": 20}
  }
 },
 {
  "data": {"name": "ev"},
  "mark": {"type": "text", "angle": 270, "align": "left", "baseline": "middle", "dx": 5, "dy": 1},
  "encoding": {
   "x": {"field": "t", "type": "temporal", "axis": null},
   "y": {"datum": 45.65, "type": "quantitative", "axis": null},
   "text": {"field": "e"}
  }
 }
]
}
